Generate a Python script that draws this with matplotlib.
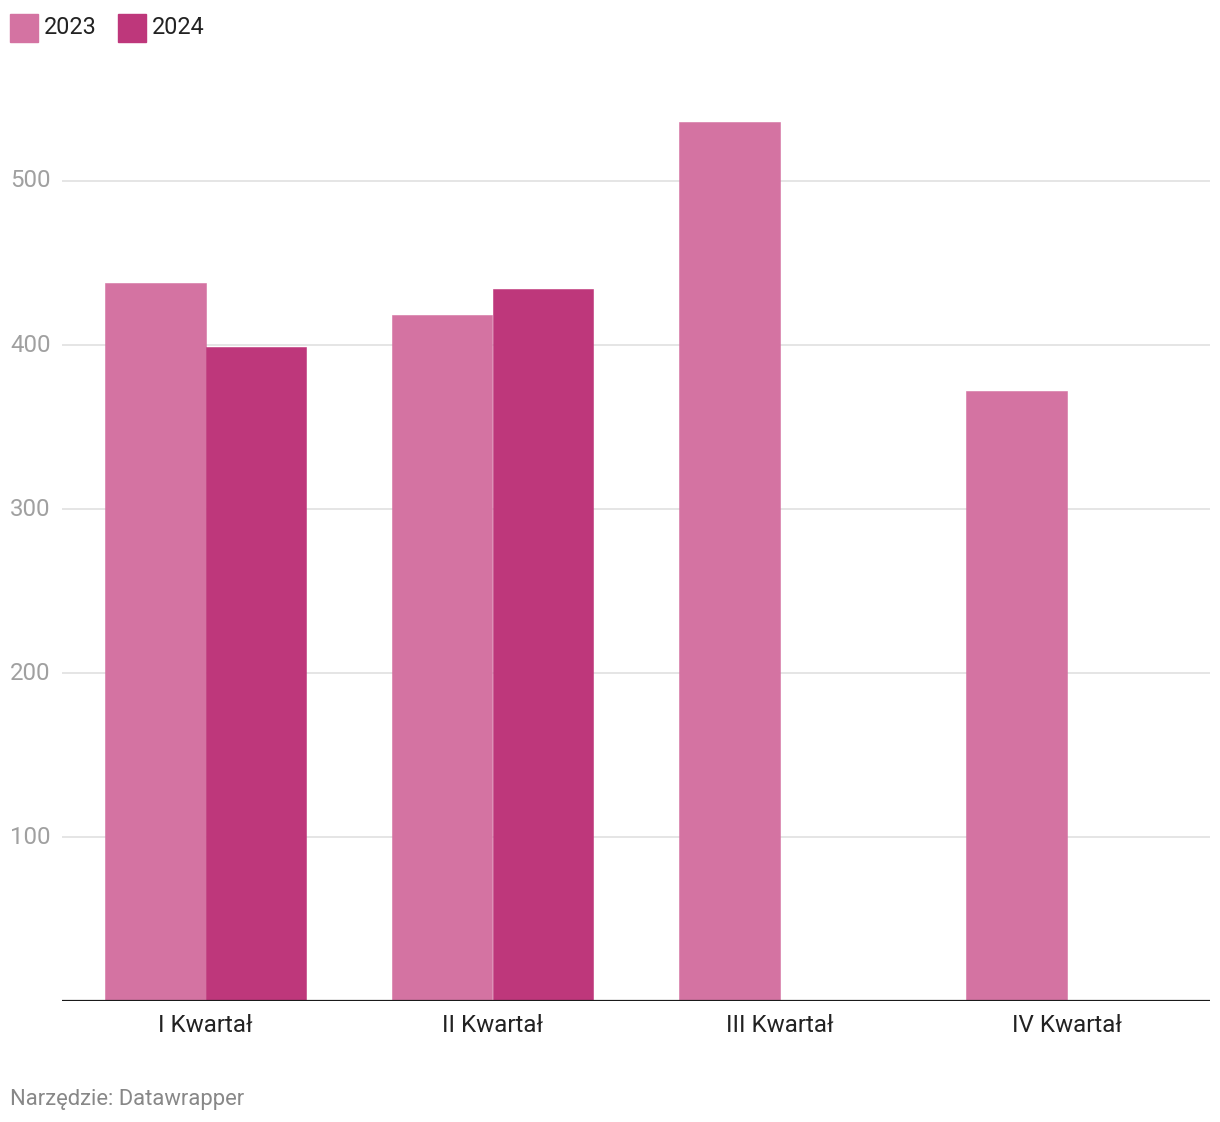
import numpy as np
import matplotlib.pyplot as plt
import matplotlib.transforms as mtransforms
from matplotlib.patches import Rectangle

plt.rcParams['font.family'] = ['Roboto', 'DejaVu Sans']

# Data
quarters = ['I Kwartał', 'II Kwartał', 'III Kwartał', 'IV Kwartał']
values_2023 = [438, 418, 536, 372]
values_2024 = [399, 434, np.nan, np.nan]
yticks = [100, 200, 300, 400, 500]

color_2023 = '#d473a2'
color_2024 = '#be377b'

W, H = 1220, 1122
fig = plt.figure(figsize=(W / 100, H / 100), dpi=100)
# axes area in pixels: left 62, right 1210, bottom 1001, top 100
ax = fig.add_axes([62 / W, (H - 1001) / H, (1210 - 62) / W, (1001 - 100) / H])

x = np.arange(len(quarters))
bw = 0.35
ax.bar(x - bw / 2, values_2023, width=bw, color=color_2023,
       edgecolor=color_2023, linewidth=0.4, zorder=2)
ax.bar(x + bw / 2, values_2024, width=bw, color=color_2024,
       edgecolor=color_2024, linewidth=0.4, zorder=2)

ax.set_xlim(-0.5, 3.5)
ax.set_ylim(0, (1001 - 100) / 1.64)

# gridlines
for t in yticks:
    ax.axhline(t, color='#e3e3e3', linewidth=1.3, zorder=1)
ax.axhline(0, color='#1a1a1a', linewidth=1.6, zorder=3)

for s in ax.spines.values():
    s.set_visible(False)
ax.set_yticks([])
ax.set_xticks(x)
ax.set_xticklabels(quarters, fontsize=17.4, color='#222222')
ax.tick_params(axis='x', length=0, pad=9.5)

# y labels at left edge of figure
trans = mtransforms.blended_transform_factory(fig.transFigure, ax.transData)
for t in yticks:
    ax.text(10 / W, t, str(t), transform=trans, ha='left', va='center',
            fontsize=17.3, color='#a0a0a0')

# legend
for i, (lbl, col) in enumerate([('2023', color_2023), ('2024', color_2024)]):
    x0 = [10, 118][i]
    fig.patches.append(Rectangle((x0 / W, 1 - 42 / H), 28 / W, 28 / H,
                                 transform=fig.transFigure, color=col))
    fig.text((x0 + 34) / W, 1 - 27 / H, lbl, ha='left', va='center',
             fontsize=16.8, color='#222222')

# footer
fig.text(10 / W, 1 - 1099 / H, 'Narzędzie: Datawrapper', ha='left', va='center',
         fontsize=15.8, color='#888888')

plt.savefig('out.png', dpi=100)
plt.close()
